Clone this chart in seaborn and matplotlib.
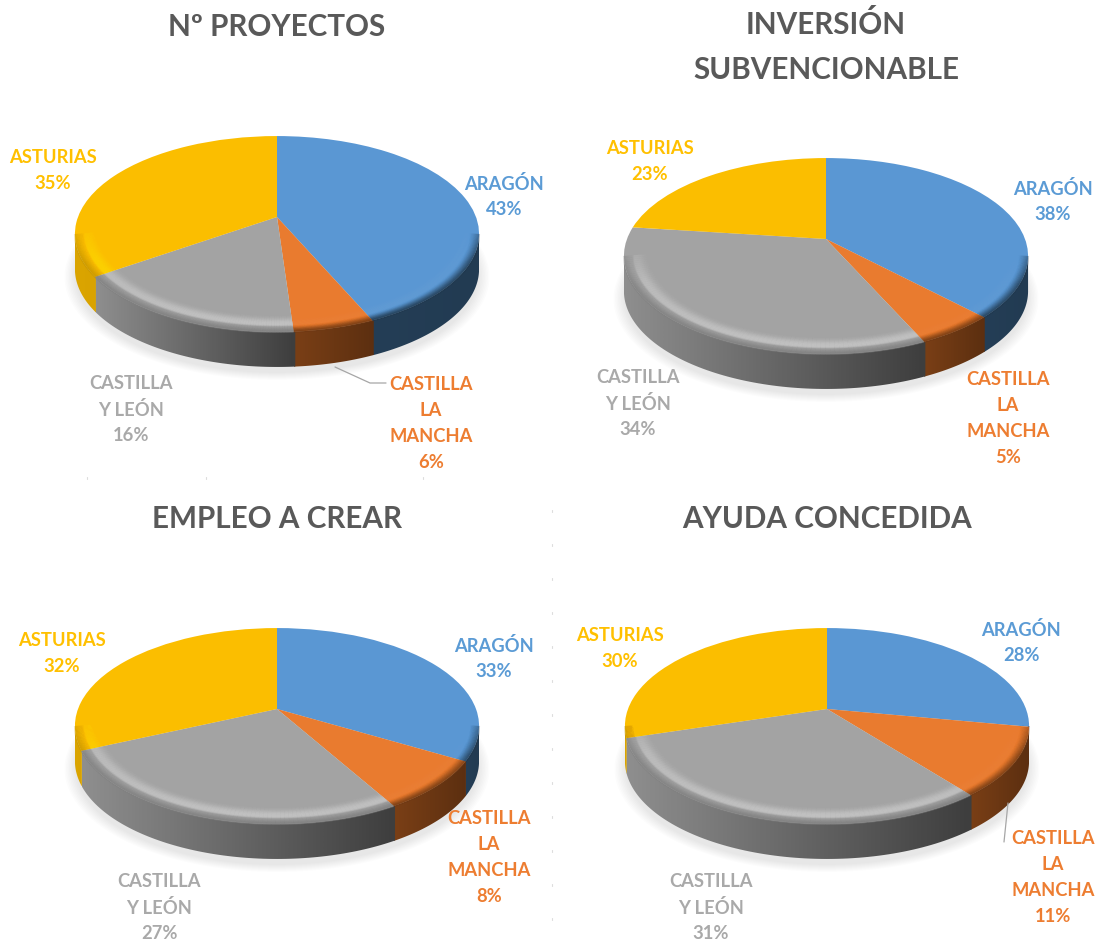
import numpy as np
import matplotlib
matplotlib.use('Agg')
import matplotlib.pyplot as plt
import seaborn as sns
from matplotlib.collections import LineCollection
from matplotlib.colors import LinearSegmentedColormap, to_rgb
from matplotlib.lines import Line2D
from matplotlib.patches import Polygon
from matplotlib.transforms import Transform

# Data (slice sizes, they round to the printed percentages)
regions = ['ARAGÓN', 'CASTILLA\nLA\nMANCHA', 'CASTILLA\nY LEÓN', 'ASTURIAS']
proyectos = [43.4, 5.5, 16.5, 34.6]
inversion = [37.8, 5.4, 33.8, 23.0]
empleo = [33.4, 8.3, 26.6, 31.7]
ayuda = [27.9, 11.4, 31.0, 29.7]
titles = ['Nº PROYECTOS', 'INVERSIÓN\nSUBVENCIONABLE', 'EMPLEO A CREAR', 'AYUDA CONCEDIDA']

# Styling
W, H = 1100, 944
UNIT = 199.0         # pixels per pie radius
K = 0.1736           # perspective strength
S = 95.0 / UNIT      # vertical squash
DEPTH = 35.0 / UNIT  # thickness of the pie
top_colors = sns.color_palette(['#5A97D3', '#E97B2F', '#A3A3A3', '#FBBE00'])
label_colors = ['#5B9BD5', '#ED7D31', '#A9A9A9', '#FFC000']
side_ramps = [('#243E56', '#223B52'), ('#7A3F16', '#5C2F10'),
              ('#8E8E8E', '#3E3E3E'), ('#DBA500', '#D9A300')]
bevel_light = [('#8FBCE6', 0.05), ('#F59A5C', 0.06), ('#D0D0D0', 0.30), ('#FFDD00', 0.40)]

# pie centre (x, y) and label centres in pixels, one row per chart
centers = [(277, 217), (826, 239), (277, 709), (827, 709)]
label_pos = [
    [(504, 196.5), (431, 423.5), (131, 409.5), (53, 170.5)],
    [(1053, 201.5), (1008, 418.5), (638, 403.5), (650, 161.5)],
    [(494, 658.5), (489, 857.5), (159, 907.5), (62, 653.5)],
    [(1021, 642.5), (1053, 877.5), (711, 907.5), (620, 648.5)],
]
title_pos = [(277, 27), (826, 47), (277, 519), (827, 519)]
leaders = [[(335, 367), (370, 383), (386, 383)], [(1008, 803), (1004, 842)]]


def project(x, y):
    w = 1 + K * y
    return x / w, S * y / w


class PieTilt(Transform):
    input_dims = 2
    output_dims = 2

    def transform_non_affine(self, values):
        values = np.asarray(values, dtype=float)
        return np.column_stack(project(values[:, 0], values[:, 1]))


def wedge_front(start, end):
    # part of a wedge (degrees) that lies on the visible front of the rim
    tangent = np.degrees(np.arcsin(K))
    lo, hi = 180 + tangent, 360 - tangent
    for shift in (-360, 0, 360):
        a, b = max(end + shift, lo), min(start + shift, hi)
        if b > a:
            return a, b
    return None


def draw_pie(ax, values):
    tilt = PieTilt()
    t = np.radians(np.linspace(0, 360, 181))

    # soft shadow under the pie
    for grow in np.linspace(1.0, 1.05, 8):
        x, y = project(grow * np.cos(t), grow * np.sin(t))
        ax.add_patch(Polygon(np.column_stack([x, y - DEPTH - 0.03]), closed=True,
                             fc='black', ec='none', alpha=0.013, zorder=1))

    wedges, _ = ax.pie(values, colors=top_colors, startangle=90, counterclock=False,
                       wedgeprops={'linewidth': 0, 'zorder': 5})
    for wedge in wedges:
        wedge.set_transform(tilt + ax.transData)

    edges = 90 - 3.6 * np.concatenate([[0], np.cumsum(values)])
    for i in range(len(values)):
        front = wedge_front(edges[i], edges[i + 1])
        if front is None:
            continue
        th = np.radians(np.linspace(front[0], front[1], 90))

        # side wall, shaded left to right; a little overlap hides the seam
        wall = np.radians(np.linspace(front[0], front[1] + 0.4, 90))
        wx, wy = project(np.cos(wall), np.sin(wall))
        pts = np.vstack([np.column_stack([wx, wy]),
                         np.column_stack([wx[::-1], wy[::-1] - DEPTH])])
        cmap = LinearSegmentedColormap.from_list('side', side_ramps[i])
        im = ax.imshow(np.linspace(0, 1, 64).reshape(1, -1), cmap=cmap, aspect='auto',
                       extent=(wx.min(), wx.max(), wy.min() - DEPTH, wy.max()),
                       interpolation='bilinear', zorder=3)
        im.set_clip_path(Polygon(pts, closed=True, transform=ax.transData))

        # bevel on the front edge of the top face
        light, strength = bevel_light[i]
        segs, cols = [], []
        fade = np.clip(-np.sin(th) / 0.45, 0, 1)[:-1]
        for r in np.linspace(0.86, 1.0, 34):
            bx, by = project(r * np.cos(th), r * np.sin(th))
            p = np.column_stack([bx, by])
            segs.extend(np.stack([p[:-1], p[1:]], axis=1))
            if r < 0.955:
                rgb = to_rgb(light)
                a = strength * np.exp(-((r - 0.94) / 0.035) ** 2)
            else:
                rgb = tuple(np.array(to_rgb(side_ramps[i][0])) * 0.9)
                a = 0.55 * ((r - 0.955) / 0.045) ** 1.5
            cols.extend([(*rgb, a * f) for f in fade])
        ax.add_collection(LineCollection(segs, colors=cols, linewidths=1.4, zorder=6,
                                         capstyle='butt'))


sns.set_theme(style='white')
plt.rcParams['font.family'] = ['Lato', 'DejaVu Sans']

fig = plt.figure(figsize=(W / 100, H / 100), dpi=100)
series = [proyectos, inversion, empleo, ayuda]

for n, values in enumerate(series):
    cx, cy = centers[n]
    left, right = cx - 270, cx + 270
    top, bottom = cy - 115, cy + 190
    ax = fig.add_axes([left / W, 1 - bottom / H, (right - left) / W, (bottom - top) / H])
    draw_pie(ax, values)
    ax.set_xlim(-270 / UNIT, 270 / UNIT)
    ax.set_ylim(-190 / UNIT, 115 / UNIT)
    ax.set_axis_off()

    fig.text(title_pos[n][0] / W, 1 - title_pos[n][1] / H, titles[n], ha='center', va='center',
             fontsize=21.3, fontweight='bold', color='#595959', linespacing=1.76)
    for i, value in enumerate(values):
        px, py = label_pos[n][i]
        fig.text(px / W, 1 - py / H, f'{regions[i]}\n{value:.0f}%', ha='center', va='center',
                 fontsize=13.2, fontweight='bold', color=label_colors[i], linespacing=1.62)

for line in leaders:
    xs, ys = zip(*line)
    fig.add_artist(Line2D(np.array(xs) / W, 1 - np.array(ys) / H, color='#A6A6A6', lw=0.9))

# faint specks left over between the charts
for sx, sy in [(87, 477), (206, 477), (423, 477)] + [(552, v) for v in range(510, 940, 34)]:
    fig.add_artist(Line2D([sx / W, sx / W], [1 - sy / H, 1 - (sy + 2) / H], color='#DDDDDD', lw=0.8))

fig.savefig('out.png', dpi=100)
